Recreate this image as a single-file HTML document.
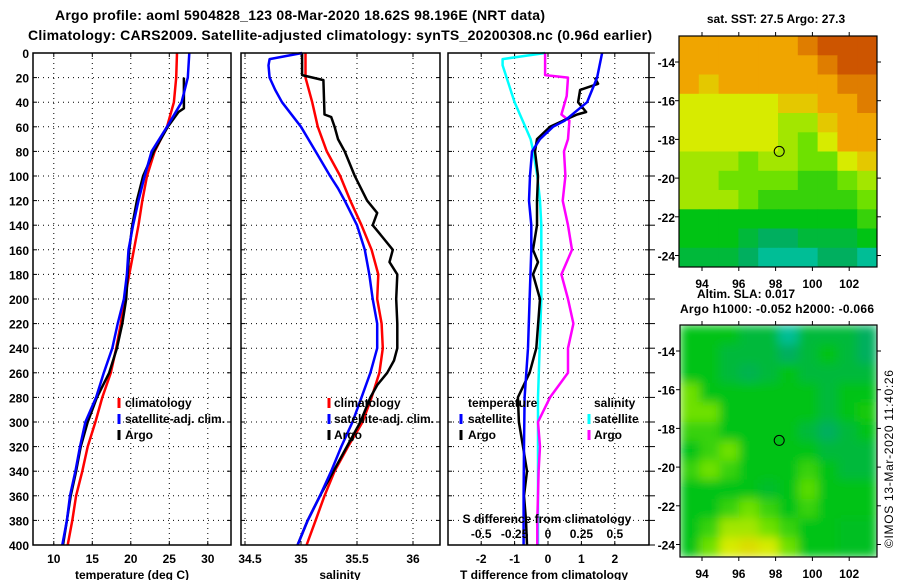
<!DOCTYPE html>
<html><head><meta charset="utf-8"><style>
html,body{margin:0;padding:0;background:#fff;}
svg{display:block;font-family:"Liberation Sans",sans-serif;font-weight:bold;}
</style></head><body>
<svg id="chart" width="900" height="580" viewBox="0 0 900 580" xmlns="http://www.w3.org/2000/svg">
<defs>
<filter id="blur" x="0" y="0" width="100%" height="100%"><feGaussianBlur stdDeviation="5" edgeMode="duplicate"/></filter>
<clipPath id="clipMap2"><rect x="680" y="325" width="197" height="232"/></clipPath>
<clipPath id="clipMap1"><rect x="679" y="36" width="198" height="231"/></clipPath>
</defs>
<text x="55" y="20" font-size="14" textLength="490">Argo profile: aoml 5904828_123 08-Mar-2020 18.62S 98.196E (NRT data)</text>
<text x="28" y="40" font-size="14" textLength="624">Climatology: CARS2009. Satellite-adjusted climatology: synTS_20200308.nc (0.96d earlier)</text>
<g id="plots"></g>
<text x="776" y="23" font-size="12" text-anchor="middle">sat. SST: 27.5 Argo: 27.3</text>
<text x="697" y="298" font-size="12">Altim. SLA: 0.017</text>
<text x="680" y="313" font-size="12" textLength="194">Argo h1000: -0.052 h2000: -0.066</text>
<text transform="translate(893,548) rotate(-90)" font-size="12" font-weight="normal" textLength="178">©IMOS 13-Mar-2020 11:40:26</text>
</svg>
<script>
// ---- data ----
const depthGrid = [0,20,40,60,80,100,120,140,160,180,200,220,240,260,280,300,320,340,360,380,400];
const tempClimDepth = [0,20,40,60,80,100,120,140,160,180,200,220,240,260,280,300,320,340,360,380,400];
const tempClim = [26.0,25.9,25.6,24.7,23.1,22.1,21.5,21.0,20.4,19.8,19.2,18.7,18.1,17.4,16.3,15.4,14.4,13.7,12.9,12.4,11.8];
const tempSatDepth = [0,20,40,60,80,100,120,140,160,180,200,220,240,260,280,300,320,340,360,380,400];
const tempSat = [27.6,27.4,26.6,24.7,22.7,21.8,21.0,20.3,19.7,19.5,19.1,18.3,17.6,16.5,15.5,14.1,13.4,12.8,12.1,11.7,11.1];
const tempArgoDepth = [20,45,48,60,80,100,120,140,160,180,200,220,240,260,280,300,320,340,360,380,400];
const tempArgo = [26.9,26.9,26.2,24.8,23.0,21.6,20.8,20.2,19.8,19.6,19.4,18.9,18.2,17.2,15.6,14.4,13.5,12.9,12.2,11.7,11.2];
const salClimDepth = [0,20,40,60,80,100,120,140,160,180,200,220,240,260,280,300,320,340,360,380,400];
const salClim = [35.04,35.04,35.10,35.15,35.23,35.35,35.44,35.54,35.63,35.69,35.68,35.72,35.73,35.70,35.63,35.55,35.42,35.30,35.21,35.13,35.05];
const salSatDepth = [0,5,10,20,30,40,60,80,100,110,120,140,160,180,200,220,240,260,280,300,320,340,360,380,400];
const salSat = [35.01,34.72,34.71,34.72,34.77,34.83,35.00,35.13,35.26,35.33,35.39,35.50,35.57,35.61,35.64,35.68,35.68,35.62,35.54,35.46,35.36,35.27,35.17,35.06,34.97];
const salArgoDepth = [0,18,22,50,52,60,70,80,100,120,130,140,150,160,170,180,200,220,240,250,260,270,280,300,320,340,360,380,400];
const salArgo = [35.01,35.01,35.20,35.21,35.27,35.30,35.33,35.39,35.48,35.59,35.68,35.64,35.73,35.82,35.79,35.86,35.85,35.86,35.86,35.83,35.77,35.68,35.62,35.53,35.41,35.29,35.17,35.06,34.97];
const dTSatDepth = [0,20,40,55,60,70,80,100,120,140,160,200,240,280,320,360,400];
const dTSat = [1.62,1.47,1.17,0.5,0.15,-0.24,-0.48,-0.54,-0.57,-0.5,-0.5,-0.55,-0.6,-0.7,-0.72,-0.73,-0.73];
const dTArgoDepth = [20,25,30,40,48,50,55,60,70,80,100,120,140,160,170,180,200,240,260,280,300,320,340,360,380,400];
const dTArgo = [1.4,1.5,0.96,0.9,1.14,0.87,0.45,0.06,-0.33,-0.39,-0.3,-0.33,-0.33,-0.45,-0.3,-0.45,-0.24,-0.35,-0.55,-0.9,-0.87,-0.75,-0.63,-0.72,-0.66,-0.63];
const dSSatDepth = [0,5,10,20,40,60,70,80,100,120,140,200,280,400];
const dSSat = [-0.022,-0.34,-0.34,-0.31,-0.25,-0.17,-0.13,-0.11,-0.08,-0.06,-0.05,-0.05,-0.075,-0.075];
const dSArgoDepth = [0,18,20,35,50,55,70,80,100,120,140,160,180,200,220,240,260,280,300,320,340,360,380,400];
const dSArgo = [-0.022,-0.022,0.15,0.14,0.1,0.16,0.15,0.12,0.13,0.11,0.15,0.18,0.1,0.15,0.19,0.15,0.15,0.015,-0.075,-0.06,-0.07,-0.075,-0.08,-0.08];
const depthTicks = [0,20,40,60,80,100,120,140,160,180,200,220,240,260,280,300,320,340,360,380,400];
const tempTicks = [10,15,20,25,30];
const salTicks = [35,35.5,36];
const salTickLabels = ["35","35.5","36"];
const dTTicks = [-2,-1,0,1,2];
const dSTicks = [-0.5,-0.25,0,0.25,0.5];
const lonTicks = [94,96,98,100,102];
const latTicks = [-14,-16,-18,-20,-22,-24];
const sstGrid = [
[5,5,5,5,5,5,5.5,6,6,6],
[5,5,5,5,5,5,5,5.5,6,6],
[5,4.5,5,5,5,5,5,5,5.5,5.5],
[4,4,4,4,4,4.5,4.5,5,5,5.5],
[4,4,4,4,4,3.5,3.5,4.5,5,5],
[4,4,4,4,4,3.5,3,4,5,5],
[3.5,3.5,3.5,3,3.5,3.5,3,3,4,4.5],
[3.5,3.5,3,3,3,3,2.5,2.5,3,3.5],
[3.5,3.5,3.5,3,2.5,2.5,2.5,2.5,2.5,3],
[2,2,2,2,2,2,2,2,2,2.5],
[2,2,2,1.5,1,1,1.5,1.5,1.5,2],
[1.5,1.5,1.5,1,0.5,0.5,0.5,1,1,0.5]];
const slaGrid = [
[2,2,2,1.5,1.5,0.5,1.5,1.5,1.5,1],
[2,2,1.5,1.5,1.5,1,1.5,2,1.5,1],
[2,2,1.5,1.2,1.5,2,1.5,1.5,1.5,1.5],
[3,2,2,2,2,2,2,1.5,2,2],
[3,3,2,2,2,2,2,1.5,2,2.2],
[2.5,2.5,2,2,2,2,1.5,1,1.5,2],
[2,2.5,3,2,2,2,2,1.5,1.5,1.5],
[2.5,3,2.5,2,2,2,2.5,2,1.5,1.5],
[2,2,2,2,1.7,2,2.8,2,2,2],
[2,2,2.5,3,2.5,2,2.5,2,2,2],
[2,2.5,3.5,3.5,3,2.5,2,2,1.8,1.8],
[2,3,4,4.2,4,3,2,2,1.8,1.8]];
const argoLon = [98.196];
const argoLat = [-18.62];

// ---- drawing ----
const NS="http://www.w3.org/2000/svg";
const root=document.getElementById('plots');
function el(tag,attrs,parent){const e=document.createElementNS(NS,tag);for(const k in attrs)e.setAttribute(k,attrs[k]);(parent||root).appendChild(e);return e;}
const Y0=53,Y1=545;
const yD=d=>Y0+(Y1-Y0)*d/400;
const panels=[{x0:33,x1:231},{x0:241,x1:440},{x0:448,x1:649}];
const xT=v=>33+(v-7.3)*7.7;
const xS=v=>245+(v-34.5)*112;
const xdT=v=>548+v*33.4;
const xdS=v=>548+v*133.6;

function frame(p,name){
  for(const d of depthTicks){
    const g=el('line',{x1:p.x0,x2:p.x1,y1:yD(d),y2:yD(d),stroke:'#000','stroke-width':1,'stroke-dasharray':'1,4'});
    
    
    el('line',{x1:p.x0,x2:p.x0+4,y1:yD(d),y2:yD(d),stroke:'#000'});
    el('line',{x1:p.x1-4,x2:p.x1,y1:yD(d),y2:yD(d),stroke:'#000'});
  }
}
function vgrid(xs,name){
  for(const x of xs){
    const g=el('line',{x1:x,x2:x,y1:Y0,y2:Y1,stroke:'#000','stroke-dasharray':'1,4'});
    
    
    el('line',{x1:x,x2:x,y1:Y0,y2:Y0+4,stroke:'#000'});
    el('line',{x1:x,x2:x,y1:Y1-4,y2:Y1,stroke:'#000'});
  }
}
function border(p,name){
  const r=el('rect',{x:p.x0,y:Y0,width:p.x1-p.x0,height:Y1-Y0,fill:'none',stroke:'#000','stroke-width':1.5});
  
  
}
function line(xs,ds,sx,color,name,w){
  const pts=xs.map((v,i)=>sx(v).toFixed(1)+','+yD(ds[i]).toFixed(1)).join(' ');
  const l=el('polyline',{points:pts,fill:'none',stroke:color,'stroke-width':w||2.5,'stroke-linejoin':'round'});
  
  
}
function txt(x,y,s,name,anchor,size){
  const t=el('text',{x:x,y:y,'font-size':size||12,'text-anchor':anchor||'start'});
  t.textContent=s;
  
  
  return t;
}
function legendMark(x,y,color,name){
  const m=el('line',{x1:x,x2:x,y1:y-9,y2:y+1,stroke:color,'stroke-width':3});
  
  
}

frame(panels[0],'temp');
vgrid(tempTicks.map(xT),'temp');
line(tempClim,tempClimDepth,xT,'#ff0000','temp-climatology-line');
line(tempArgo,tempArgoDepth,xT,'#000000','temp-argo-line');
line(tempSat,tempSatDepth,xT,'#0000ff','temp-satellite-line');
border(panels[0],'temp');
depthTicks.forEach(d=>txt(29,yD(d)+5,String(d),'depth-tick-label','end'));
tempTicks.forEach(v=>txt(xT(v),563,String(v),'temp-tick-label','middle'));
txt(132,579,'temperature (deg C)','temp-axis-title','middle');
legendMark(119,407,'#ff0000','legend-climatology-mark');txt(125,407,'climatology','legend-climatology');
legendMark(119,423,'#0000ff','legend-satellite-mark');txt(125,423,'satellite-adj. clim.','legend-satellite');
legendMark(119,439,'#000000','legend-argo-mark');txt(125,439,'Argo','legend-argo');

frame(panels[1],'sal');
vgrid([34.5].concat(salTicks).map(xS),'sal');
line(salClim,salClimDepth,xS,'#ff0000','sal-climatology-line');
line(salArgo,salArgoDepth,xS,'#000000','sal-argo-line');
line(salSat,salSatDepth,xS,'#0000ff','sal-satellite-line');
border(panels[1],'sal');
txt(250,563,'34.5','sal-tick-label','middle');
salTicks.forEach((v,i)=>txt(xS(v),563,salTickLabels[i],'sal-tick-label','middle'));
txt(340,579,'salinity','sal-axis-title','middle');
legendMark(329,407,'#ff0000','legend2-climatology-mark');txt(334,407,'climatology','legend2-climatology');
legendMark(329,423,'#0000ff','legend2-satellite-mark');txt(334,423,'satellite-adj. clim.','legend2-satellite');
legendMark(329,439,'#000000','legend2-argo-mark');txt(334,439,'Argo','legend2-argo');

frame(panels[2],'diff');
vgrid(dTTicks.map(xdT),'diff');
depthTicks.forEach(d=>el('line',{x1:649,x2:655,y1:yD(d),y2:yD(d),stroke:'#000'}));
line(dSSat,dSSatDepth,xdS,'#00ffff','sal-diff-satellite-line');
line(dSArgo,dSArgoDepth,xdS,'#ff00ff','sal-diff-argo-line');
line(dTArgo,dTArgoDepth,xdT,'#000000','temp-diff-argo-line');
line(dTSat,dTSatDepth,xdT,'#0000ff','temp-diff-satellite-line');
border(panels[2],'diff');
dTTicks.forEach(v=>txt(xdT(v),563,String(v),'dT-tick-label','middle'));
txt(544,579,'T difference from climatology','dT-axis-title','middle');
txt(547,523,'S difference from climatology','dS-axis-title','middle');
dSTicks.forEach(v=>txt(xdS(v),538,String(v),'dS-tick-label','middle'));
txt(468,407,'temperature','legend3-temperature-header');
legendMark(461,423,'#0000ff','legend3-tsat-mark');txt(468,423,'satellite','legend3-tsat');
legendMark(461,439,'#000000','legend3-targo-mark');txt(468,439,'Argo','legend3-targo');
txt(594,407,'salinity','legend3-salinity-header');
legendMark(589,423,'#00ffff','legend3-ssat-mark');txt(594,423,'satellite','legend3-ssat');
legendMark(589,439,'#ff00ff','legend3-sargo-mark');txt(594,439,'Argo','legend3-sargo');

const cstops=[[0,[0,205,205]],[1,[0,175,95]],[2,[0,195,20]],[3,[110,225,0]],[4,[215,235,0]],[5,[240,165,0]],[6,[205,85,0]]];
function cmap(v){
  v=Math.max(0,Math.min(6,v));
  for(let i=0;i<cstops.length-1;i++){const a=cstops[i],b=cstops[i+1];
    if(v<=b[0]){const t=(v-a[0])/(b[0]-a[0]);return 'rgb('+a[1].map((c,j)=>Math.round(c+(b[1][j]-c)*t)).join(',')+')';}}
  return 'rgb(205,85,0)';
}
function drawMap(grid,mx0,my0,w,h,name,blur,clip,lat0){
  const g=el('g',{'clip-path':'url(#'+clip+')'});
  
  
  const inner=el('g',blur?{filter:'url(#blur)'}:{},g);
  const rows=grid.length,cols=grid[0].length,cw=w/cols,ch=h/rows;
  grid.forEach((row,r)=>row.forEach((v,c)=>{
    const cell=el('rect',{x:(mx0+c*cw).toFixed(1),y:(my0+r*ch).toFixed(1),width:(cw+0.6).toFixed(1),height:(ch+0.6).toFixed(1),fill:cmap(v)},inner);
    
    
  }));
  const fr=el('rect',{x:mx0,y:my0,width:w,height:h,fill:'none',stroke:'#000','stroke-width':1.2});
  
  
  const lx=lon=>702+(lon-94)*18.4;
  const ly=lat=>lat0+(-14-lat)*19.35;
  lonTicks.forEach(lon=>{el('line',{x1:lx(lon),x2:lx(lon),y1:my0-4,y2:my0,stroke:'#000'});el('line',{x1:lx(lon),x2:lx(lon),y1:my0+h,y2:my0+h+4,stroke:'#000'});});
  latTicks.forEach(lat=>{el('line',{x1:mx0+w,x2:mx0+w+4,y1:ly(lat),y2:ly(lat),stroke:'#000'});el('line',{x1:mx0-4,x2:mx0,y1:ly(lat),y2:ly(lat),stroke:'#000'});
    txt(675,ly(lat)+5,String(lat),name+'-lat-label','end');});
  const c=el('circle',{cx:lx(argoLon[0]),cy:ly(argoLat[0]),r:5,fill:'none',stroke:'#000','stroke-width':1});
  
  
  return lx;
}
const lx1=drawMap(sstGrid,679,36,198,231,'sst-map',false,'clipMap1',62);
lonTicks.forEach(lon=>txt(lx1(lon),288,String(lon),'sst-lon-label','middle'));
const lx2=drawMap(slaGrid,680,325,197,232,'sla-map',true,'clipMap2',351);
lonTicks.forEach(lon=>txt(lx2(lon),578,String(lon),'sla-lon-label','middle'));
</script>
</body></html>
